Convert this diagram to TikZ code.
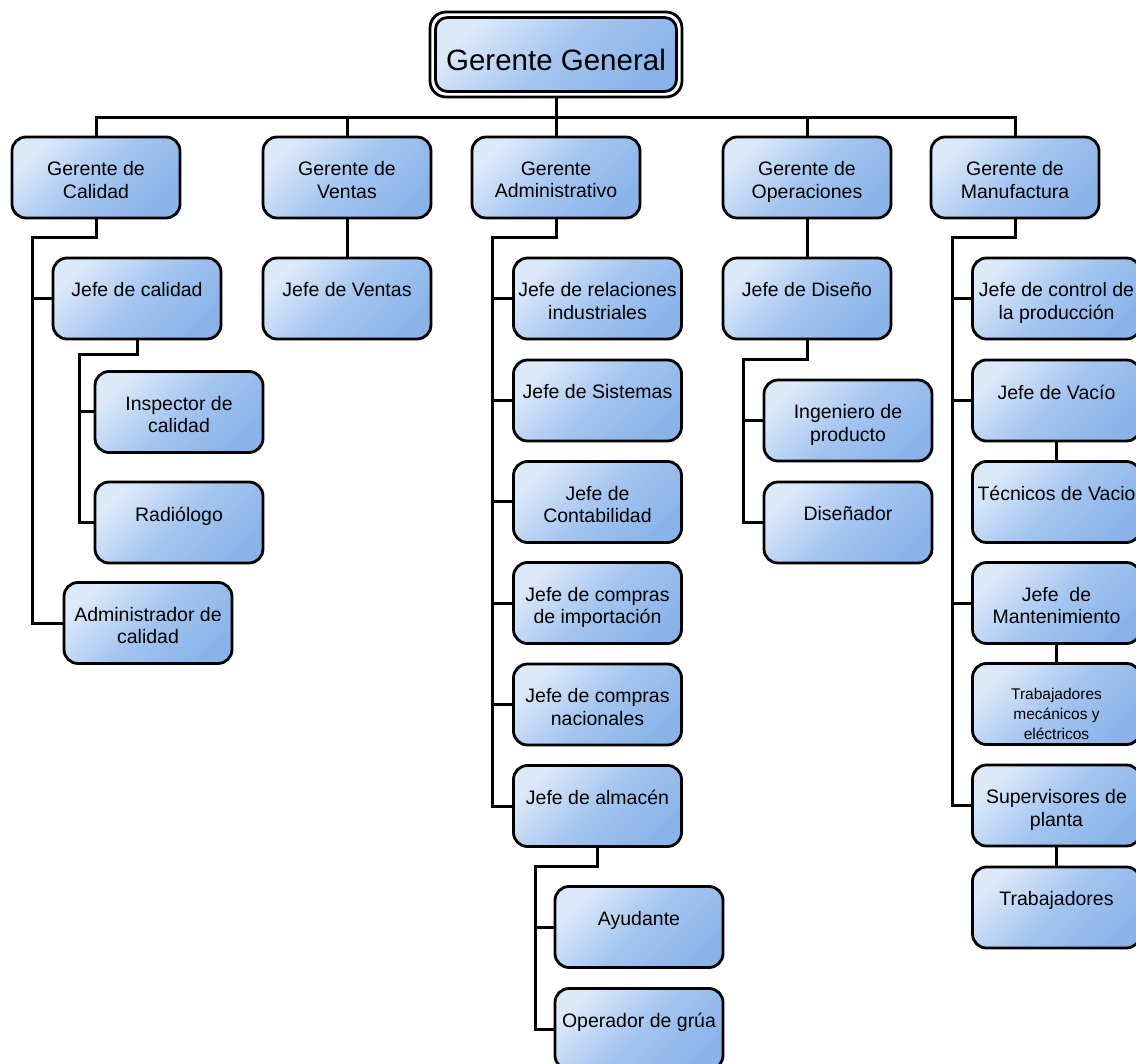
\documentclass[tikz,border=0pt]{standalone}
\usepackage{fontspec}
\setmainfont{Liberation Sans}
\definecolor{boxlight}{RGB}{220,233,249}
\definecolor{boxmid}{RGB}{165,197,240}
\definecolor{boxdark}{RGB}{138,180,233}
% one org-chart box: shaded frame plus its text hung from the top edge
\newcommand\orgbox[5][txt]{%
  \node[box] (#2) at (#3,#4) {};
  \node[#1, anchor=north] (#2-t) at ([yshift=-26pt]#2.north) {#5};
}
\begin{document}
\begin{tikzpicture}[x=1pt,y=-1pt,
  conn/.style={draw=black, line width=3pt},
  box/.style={draw=black, line width=2.8pt, rounded corners=14pt,
    minimum width=168pt, minimum height=81pt, inner sep=0pt,
    top color=boxlight, bottom color=boxdark, middle color=boxmid,
    shading angle=45},
  txt/.style={inner sep=0pt, align=center,
    font=\fontsize{19.5}{22.5}\selectfont},
  smalltxt/.style={inner sep=0pt, align=center,
    font=\fontsize{15.5}{20}\selectfont}]
\useasboundingbox (0,0) rectangle (1136,1064);

% top of the chart: double framed box
\node[draw=black, line width=2.8pt, rounded corners=16pt, minimum width=252pt,
  minimum height=85pt, fill=white, inner sep=0pt] (gg) at (556,54.5) {};
\node[box, minimum width=241pt, minimum height=74pt, rounded corners=12pt]
  (ggi) at (gg.center) {};
\node[font=\fontsize{29.5}{34}\selectfont, inner sep=0pt] (ggt)
  at ([yshift=-5pt]gg.center) {Gerente General};

% managers
\orgbox{gc}{96}{177.5}{Gerente de\\Calidad}
\orgbox{gv}{347}{177.5}{Gerente de\\Ventas}
\orgbox{ga}{556}{177.5}{Gerente\\Administrativo}
\orgbox{go}{807}{177.5}{Gerente de\\Operaciones}
\orgbox{gm}{1015}{177.5}{Gerente de\\Manufactura}

% quality
\orgbox{jc}{137}{298.5}{Jefe de calidad}
\orgbox{ic}{179}{412}{Inspector de\\calidad}
\orgbox{ra}{179}{522.5}{Radiólogo}
\orgbox{ad}{148}{623}{Administrador de\\calidad}

% sales
\orgbox{jv}{347}{298.5}{Jefe de Ventas}

% administration
\orgbox{jr}{597.5}{298.5}{Jefe de relaciones\\industriales}
\orgbox{js}{597.5}{400.5}{Jefe de Sistemas}
\orgbox{jco}{597.5}{502}{Jefe de\\Contabilidad}
\orgbox{jci}{597.5}{603}{Jefe de compras\\de importación}
\orgbox{jcn}{597.5}{704.5}{Jefe de compras\\nacionales}
\orgbox{ja}{597.5}{806}{Jefe de almacén}
\orgbox{ay}{639}{927}{Ayudante}
\orgbox{og}{639}{1029}{Operador de grúa}

% operations
\orgbox{jd}{807}{298.5}{Jefe de Diseño}
\orgbox{ip}{848}{420.5}{Ingeniero de\\producto}
\orgbox{di}{848}{522.5}{Diseñador}

% manufacturing
\orgbox{jp}{1056.5}{298.5}{Jefe de control de\\la producción}
\orgbox{jva}{1056.5}{400.5}{Jefe de Vacío}
\orgbox{tv}{1056.5}{502}{Técnicos de Vacio}
\orgbox{jm}{1056.5}{603}{Jefe\ \ de\\Mantenimiento}
\orgbox[smalltxt]{tm}{1056.5}{704}{Trabajadores\\mecánicos y\\eléctricos}
\orgbox{sp}{1056.5}{805.5}{Supervisores de\\planta}
\orgbox{tr}{1056.5}{907.5}{Trabajadores}

% connectors: main bus
\coordinate (busy) at (0,118);
\draw[conn] (gg.south) -- (gg.south |- busy);
\draw[conn] (gc.north) |- (gm.north |- busy) -- (gm.north);
\foreach \n in {gv,ga,go} \draw[conn] (\n.north) -- (\n.north |- busy);

% quality branch
\coordinate (cq) at (32,238);
\draw[conn] (gc.south) |- (cq) |- (ad.west);
\draw[conn] (cq |- jc.west) -- (jc.west);
\coordinate (cj) at (79,355);
\draw[conn] (jc.south) |- (cj) |- (ra.west);
\draw[conn] (cj |- ic.west) -- (ic.west);

% sales branch
\draw[conn] (gv.south) -- (jv.north);

% administration branch
\coordinate (ca) at (492,238);
\draw[conn] (ga.south) |- (ca) |- (ja.west);
\foreach \n in {jr,js,jco,jci,jcn} \draw[conn] (ca |- \n.west) -- (\n.west);
\coordinate (cal) at (535,866);
\draw[conn] (ja.south) |- (cal) |- (og.west);
\draw[conn] (cal |- ay.west) -- (ay.west);

% operations branch
\draw[conn] (go.south) -- (jd.north);
\coordinate (cd) at (743,360);
\draw[conn] (jd.south) |- (cd) |- (di.west);
\draw[conn] (cd |- ip.west) -- (ip.west);

% manufacturing branch
\coordinate (cm) at (952,238);
\draw[conn] (gm.south) |- (cm) |- (sp.west);
\foreach \n in {jp,jva,jm} \draw[conn] (cm |- \n.west) -- (\n.west);
\draw[conn] (jva.south) -- (tv.north);
\draw[conn] (jm.south) -- (tm.north);
\draw[conn] (sp.south) -- (tr.north);
\end{tikzpicture}
\end{document}
